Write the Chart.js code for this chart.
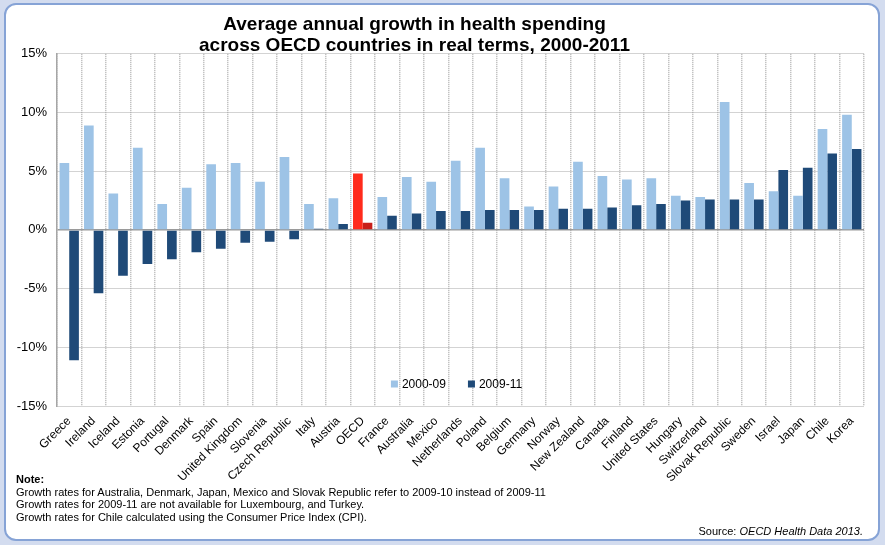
<!DOCTYPE html>
<html><head><meta charset="utf-8">
<script src="https://cdn.jsdelivr.net/npm/chart.js@4"></script>
<style>
html,body{margin:0;padding:0;width:885px;height:545px;overflow:hidden;background:#d3dcef;}
#frame{position:absolute;left:4px;top:3px;width:872px;height:534px;border:2px solid #86a3d6;border-radius:12px;background:#fff;}
#wrap{position:absolute;left:-35px;top:0;width:920px;height:545px;}
.note{position:absolute;left:16px;font-family:"Liberation Sans",Arial,sans-serif;font-size:11px;color:#000;line-height:13px;white-space:nowrap;}
</style></head>
<body>
<div id="frame"></div>
<div id="wrap"><canvas id="c" width="920" height="545"></canvas></div>
<div class="note" style="top:473px;font-weight:bold;">Note:</div>
<div class="note" style="top:485.5px;">Growth rates for Australia, Denmark, Japan, Mexico and Slovak Republic refer to 2009-10 instead of 2009-11</div>
<div class="note" style="top:498px;">Growth rates for 2009-11 are not available for Luxembourg, and Turkey.</div>
<div class="note" style="top:511px;">Growth rates for Chile calculated using the Consumer Price Index (CPI).</div>
<div class="note" style="top:524.5px;left:auto;right:22px;">Source: <i>OECD Health Data 2013.</i></div>
<script>
const categories = ['Greece','Ireland','Iceland','Estonia','Portugal','Denmark','Spain','United Kingdom','Slovenia','Czech Republic','Italy','Austria','OECD','France','Australia','Mexico','Netherlands','Poland','Belgium','Germany','Norway','New Zealand','Canada','Finland','United States','Hungary','Switzerland','Slovak Republic','Sweden','Israel','Japan','Chile','Korea'];
const growth2000_09 = [5.7,8.9,3.1,7.0,2.2,3.6,5.6,5.7,4.1,6.2,2.2,2.7,4.8,2.8,4.5,4.1,5.9,7.0,4.4,2.0,3.7,5.8,4.6,4.3,4.4,2.9,2.8,10.9,4.0,3.3,2.9,8.6,9.8];
const growth2009_11 = [-11.1,-5.4,-3.9,-2.9,-2.5,-1.9,-1.6,-1.1,-1.0,-0.8,0.1,0.5,0.6,1.2,1.4,1.6,1.6,1.7,1.7,1.7,1.8,1.8,1.9,2.1,2.2,2.5,2.6,2.6,2.6,5.1,5.3,6.5,6.9];
const seriesLabels = ['2000-09','2009-11'];
const titleLines = ['Average annual growth in health spending','across OECD countries in real terms, 2000-2011'];

const FONT = '"Liberation Sans", Arial, sans-serif';
const LIGHT = '#9dc3e6', DARK = '#1f4a78', RED_L = '#ff2b1c', RED_D = '#c8201a';

const legendPlugin = {
  id: 'inlineLegend',
  afterDatasetsDraw(chart) {
    const {ctx, chartArea: a} = chart;
    ctx.save();
    ctx.font = '12px ' + FONT;
    ctx.textBaseline = 'middle';
    const items = chart.data.datasets.map(d => ({text: d.label, color: d.legendColor, w: ctx.measureText(d.label).width}));
    const sq = 7, gap = 4, between = 22;
    let total = items.reduce((s, it) => s + sq + gap + it.w, 0) + between * (items.length - 1);
    let x = (a.left + a.right) / 2 - 4 - total / 2;
    const y = a.bottom - 22;
    items.forEach(it => {
      ctx.fillStyle = it.color;
      ctx.fillRect(x, y - sq / 2, sq, sq);
      x += sq + gap;
      ctx.fillStyle = '#000';
      ctx.fillText(it.text, x, y + 0.5);
      x += it.w + between;
    });
    ctx.restore();
  }
};

new Chart(document.getElementById('c'), {
  type: 'bar',
  data: {
    labels: categories,
    datasets: [
      {label: seriesLabels[0], data: growth2000_09, legendColor: LIGHT,
       backgroundColor: categories.map(c => c === 'OECD' ? RED_L : LIGHT),
       borderWidth: 0, categoryPercentage: 0.79, barPercentage: 1},
      {label: seriesLabels[1], data: growth2009_11, legendColor: DARK,
       backgroundColor: categories.map(c => c === 'OECD' ? RED_D : DARK),
       borderWidth: 0, categoryPercentage: 0.79, barPercentage: 1}
    ]
  },
  options: {
    responsive: false,
    animation: false,
    devicePixelRatio: 1,
    layout: {padding: {left: 0, right: 21, top: 0, bottom: 0}},
    plugins: {
      legend: {display: false},
      tooltip: {enabled: false},
      title: {
        display: true, text: titleLines, color: '#000',
        font: {family: FONT, size: 19, weight: 'bold', lineHeight: 1.1},
        padding: {top: 14, bottom: -2}
      }
    },
    scales: {
      x: {
        offset: true,
        grid: {drawTicks: false, offset: true, color: '#b4b4b4', lineWidth: 1.5},
        border: {display: false, dash: [1, 1]},
        ticks: {autoSkip: false, maxRotation: 45, minRotation: 45, padding: 8, color: '#000', font: {family: FONT, size: 12}},
        afterFit(s) { s.height = 139; }
      },
      y: {
        min: -15, max: 15,
        grid: {
          drawTicks: false,
          color: c => (c.tick && c.tick.value === 0) ? '#9a9a9a' : '#a6a6a6',
          lineWidth: c => (c.tick && c.tick.value === 0) ? 1.5 : 1
        },
        border: {display: true, color: '#a6a6a6', width: 1.5,
          dash: c => (c.tick && c.tick.value === 0) ? [] : [1, 1]},
        ticks: {stepSize: 5, padding: 10, color: '#000', font: {family: FONT, size: 13},
          callback: v => v + '%'},
        afterFit(s) { s.width = 92; }
      }
    }
  },
  plugins: [legendPlugin]
});
</script>
</body></html>
